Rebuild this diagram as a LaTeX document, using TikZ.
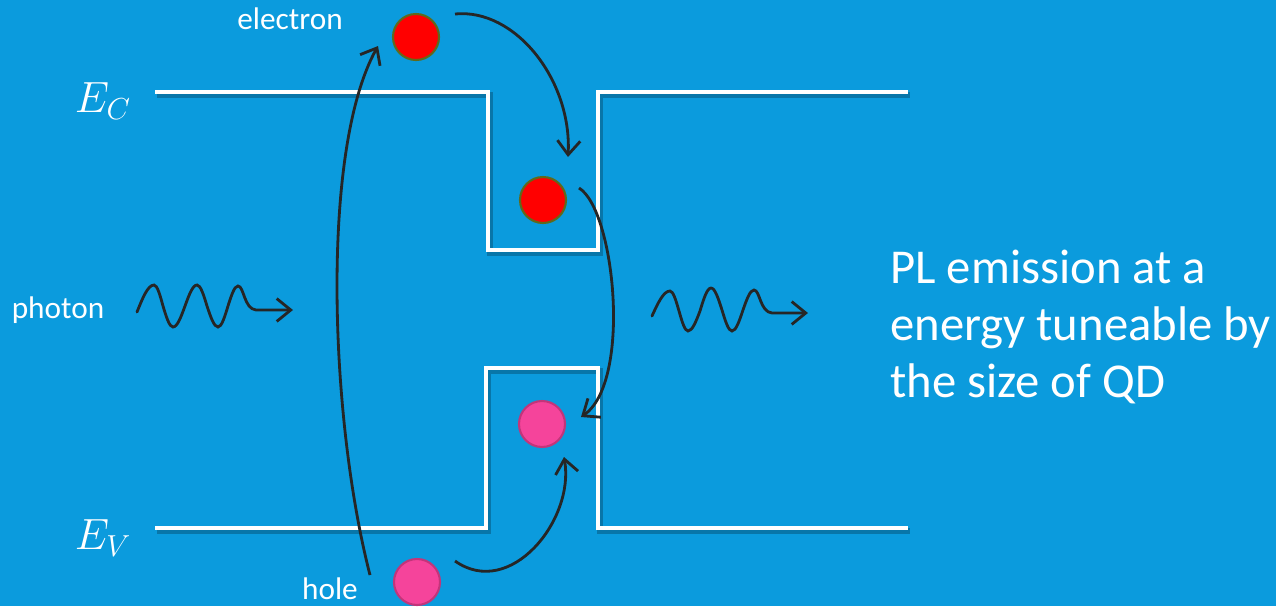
\documentclass[tikz,border=0pt]{standalone}
\usepackage{fontspec}
\setmainfont{Carlito}
\usepackage{tikz}
\usetikzlibrary{arrows.meta, positioning, calc}
\definecolor{bgblue}{HTML}{0B9BDD}
\definecolor{bandshadow}{HTML}{07587F}
\definecolor{arrowgray}{HTML}{262626}
\definecolor{elred}{HTML}{FF0000}
\definecolor{elrim}{HTML}{5F6A1C}
\definecolor{hopink}{HTML}{F5449B}
\definecolor{horim}{HTML}{C2357A}

\begin{document}
\begin{tikzpicture}[x=0.02cm, y=-0.02cm, >={Straight Barb[length=8pt, width=13pt]},
    band/.style={white, line width=2.7pt, line join=miter},
    bandshade/.style={bandshadow, opacity=0.55, line width=3.2pt, line join=miter},
    carrier/.style={circle, minimum size=0.92cm, inner sep=0pt, line width=1.2pt},
    electron/.style={carrier, fill=elred, draw=elrim},
    hole/.style={carrier, fill=hopink, draw=horim},
    jump/.style={->, arrowgray, line width=1.6pt},
    wave/.style={->, arrowgray, line width=1.6pt, line cap=round},
    lbl/.style={white, font=\fontsize{17.8}{20}\selectfont, anchor=base},
    level/.style={white, font=\fontsize{27}{30}\selectfont}]

% background and page size
\fill[bgblue] (0,0) rectangle (1276,606);
\useasboundingbox (0,0) rectangle (1276,606);

% ── BAND EDGES ───────────────────────────────────────────────────
\foreach \s/\st in {{(2,3)}/bandshade, {(0,0)}/band} {
    \draw[\st, shift={\s}] (155,92) -- (488,92) -- (488,250) -- (598,250) -- (598,92) -- (908,92);
    \draw[\st, shift={\s}] (155,528) -- (486,528) -- (486,368) -- (598,368) -- (598,528) -- (908,528);
}
\node[level] (ec) at (103,101) {$E_C$};
\node[level] (ev) at (103,538) {$E_V$};

% ── CARRIERS ─────────────────────────────────────────────────────
\node[electron] (e1) at (416,37) {};
\node[electron] (e2) at (543,200) {};
\node[hole] (h2) at (542,424) {};
\node[hole] (h1) at (417,582) {};

\node[lbl] (elbl) at (290,29) {electron};
\node[lbl] (hlbl) at (330,599) {hole};
\node[lbl] (plbl) at (58,318) {photon};

% ── TRANSITIONS ──────────────────────────────────────────────────
% excitation
\draw[jump] ([shift={(-47,-7)}]h1.center) .. controls (330,420) and (320,150) .. ([shift={(-38,9)}]e1.center);
% relaxation into the dot
\draw[jump] ([shift={(39,-23)}]e1.center) .. controls (515,8) and (572,80) .. ([shift={(25,-43)}]e2.center);
\draw[jump] ([shift={(38,-21)}]h1.center) .. controls (510,600) and (575,520) .. ([shift={(22,33)}]h2.center);
% recombination
\draw[jump] ([shift={(36,-12)}]e2.center) .. controls (615,210) and (632,382) .. ([shift={(39,-7)}]h2.center);

% ── PHOTONS ──────────────────────────────────────────────────────
\draw[wave] (137,312) sin (154,285) cos (163,306) sin (173,327) cos (185,306) sin (197,285)
    cos (207,306) sin (218,327) cos (228,306) sin (238,286)
    .. controls (244,286) and (244,309) .. (256,310) -- (293,310);
\draw[wave] (652,316) sin (670,291) cos (679,311) sin (688,331) cos (700,311) sin (711,288)
    cos (722,310) sin (732,331) cos (743,310) sin (754,290)
    .. controls (760,290) and (760,312) .. (772,313) -- (808,313);

\node[white, anchor=base west, align=left, inner sep=0pt,
      font=\fontsize{27.7}{32.3}\selectfont] (pl) at (890,397)
    {PL emission at a\\energy tuneable by\\the size of QD};

\end{tikzpicture}
\end{document}
